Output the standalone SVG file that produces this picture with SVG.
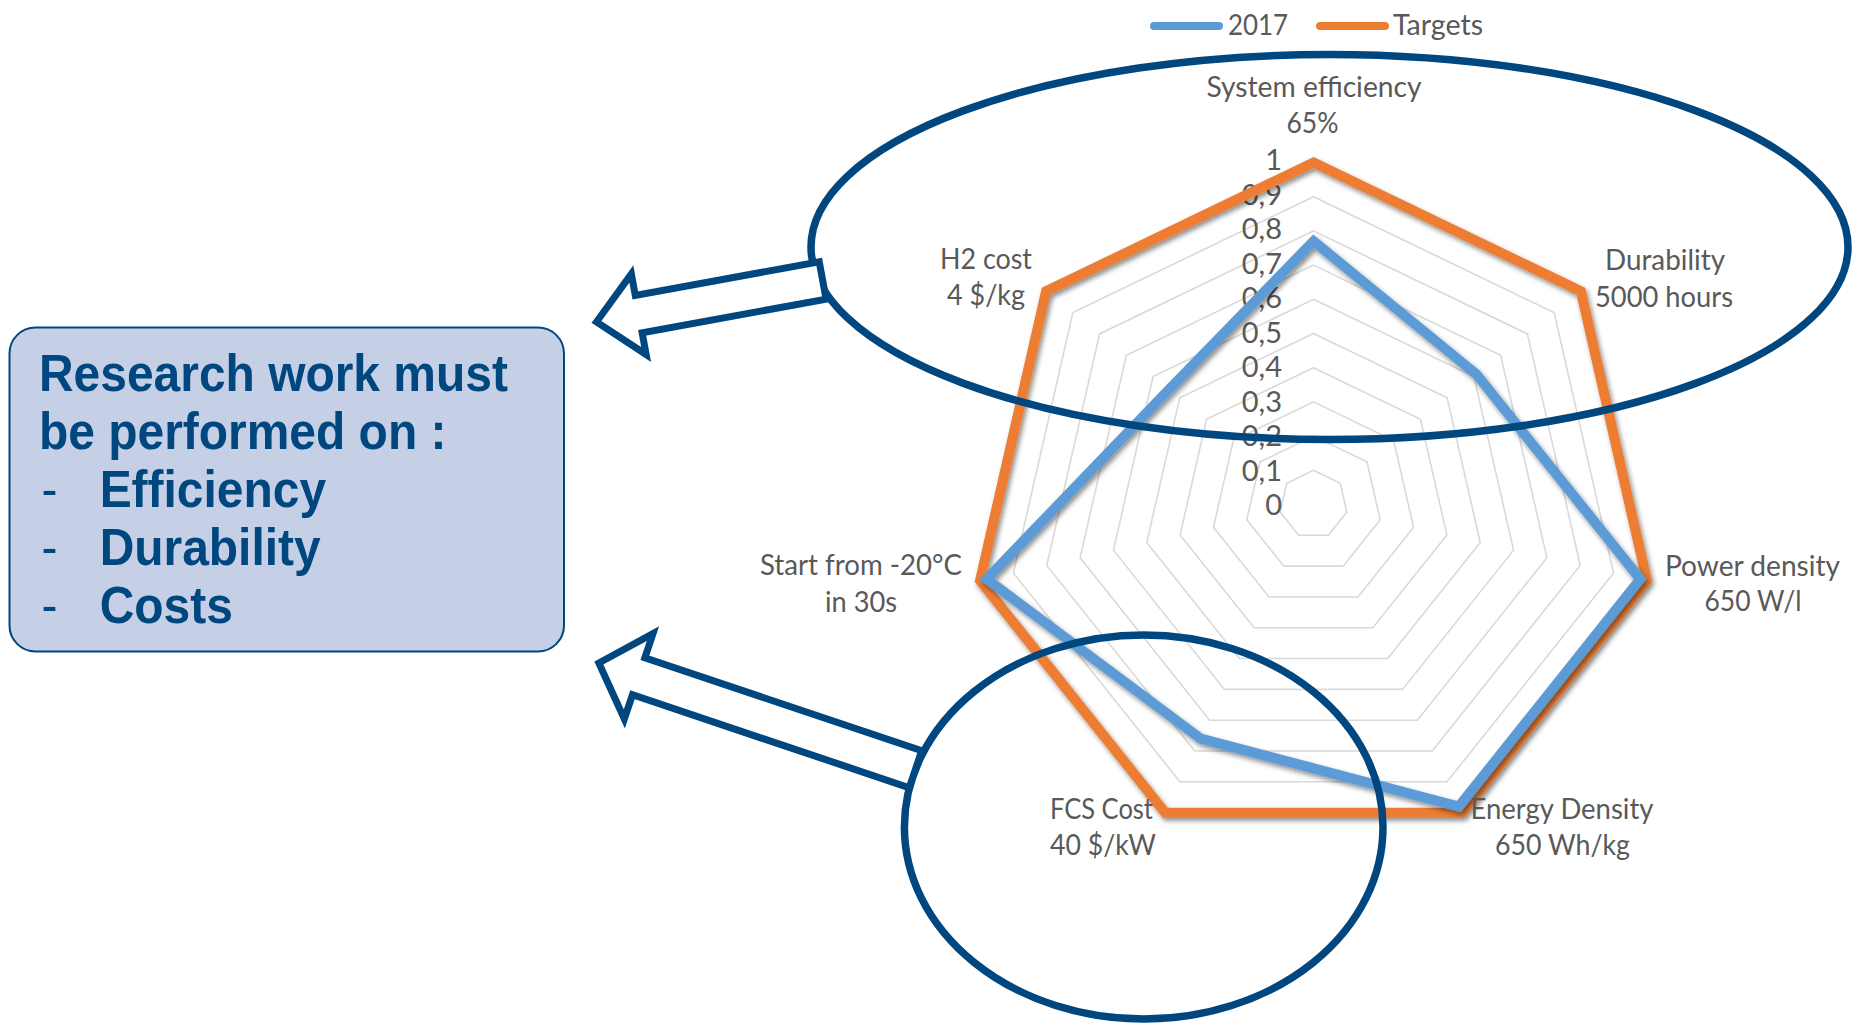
<svg xmlns="http://www.w3.org/2000/svg" width="1854" height="1025" viewBox="0 0 1854 1025">
  <style>
    .grid { fill: none; stroke: #d9d9d9; stroke-width: 1.6; }
    .lbl { font-family: Lato, "Open Sans", "Liberation Sans", sans-serif; font-size: 29px; fill: #595959; text-anchor: middle; }
    .ax { font-family: Lato, "Open Sans", "Liberation Sans", sans-serif; font-size: 29px; fill: #595959; text-anchor: end; }
    .series { fill: none; stroke-width: 10; stroke-linejoin: miter; }
    .hl { fill: none; stroke: #00467f; stroke-width: 7.5; }
    .arrow { fill: #ffffff; stroke: #00467f; stroke-width: 7; stroke-linejoin: miter; }
    .box { fill: #c5d0e7; stroke: #00467f; stroke-width: 2; }
    .bt { font-family: "Liberation Sans", Arial, sans-serif; font-weight: bold; font-size: 51px; fill: #00467f; }
  </style>
  <defs>
    <filter id="shadow" x="-10%" y="-10%" width="120%" height="120%">
      <feDropShadow dx="2" dy="3" stdDeviation="2.5" flood-color="#000000" flood-opacity="0.45"/>
    </filter>
  </defs>

  <rect x="0" y="0" width="1854" height="1025" fill="#ffffff"/>

  <!-- Radar chart -->
  <g id="chart">
    <g id="legend">
      <line x1="1154" y1="26" x2="1219" y2="26" stroke="#5b9bd5" stroke-width="8" stroke-linecap="round"/>
      <text class="lbl" x="1228" y="35" style="text-anchor:start" textLength="60" lengthAdjust="spacingAndGlyphs">2017</text>
      <line x1="1320" y1="26" x2="1385" y2="26" stroke="#ed7d31" stroke-width="8" stroke-linecap="round"/>
      <text class="lbl" x="1393" y="35" style="text-anchor:start" textLength="90" lengthAdjust="spacingAndGlyphs">Targets</text>
    </g>
    <g id="grid" transform="translate(1313.5 504.5)">
      <polygon class="grid" points="0,-34.2 26.74,-21.32 33.34,7.61 14.84,30.81 -14.84,30.81 -33.34,7.61 -26.74,-21.32"/>
      <polygon class="grid" points="0,-68.4 53.48,-42.65 66.69,15.22 29.68,61.63 -29.68,61.63 -66.69,15.22 -53.48,-42.65"/>
      <polygon class="grid" points="0,-102.6 80.22,-63.97 100.03,22.83 44.52,92.44 -44.52,92.44 -100.03,22.83 -80.22,-63.97"/>
      <polygon class="grid" points="0,-136.8 106.96,-85.29 133.37,30.44 59.36,123.25 -59.36,123.25 -133.37,30.44 -106.96,-85.29"/>
      <polygon class="grid" points="0,-171 133.7,-106.62 166.72,38.05 74.2,154.07 -74.2,154.07 -166.72,38.05 -133.7,-106.62"/>
      <polygon class="grid" points="0,-205.2 160.43,-127.94 200.06,45.66 89.03,184.88 -89.03,184.88 -200.06,45.66 -160.43,-127.94"/>
      <polygon class="grid" points="0,-239.4 187.17,-149.26 233.4,53.27 103.87,215.69 -103.87,215.69 -233.4,53.27 -187.17,-149.26"/>
      <polygon class="grid" points="0,-273.6 213.91,-170.58 266.74,60.88 118.71,246.5 -118.71,246.5 -266.74,60.88 -213.91,-170.58"/>
      <polygon class="grid" points="0,-307.8 240.65,-191.91 300.09,68.49 133.55,277.32 -133.55,277.32 -300.09,68.49 -240.65,-191.91"/>
      <polygon class="grid" points="0,-342 267.39,-213.23 333.43,76.1 148.39,308.13 -148.39,308.13 -333.43,76.1 -267.39,-213.23"/>
    </g>
    <g id="axis-values">
      <text class="ax" x="1282" y="170">1</text>
      <text class="ax" x="1282" y="204.5">0,9</text>
      <text class="ax" x="1282" y="239">0,8</text>
      <text class="ax" x="1282" y="273.5">0,7</text>
      <text class="ax" x="1282" y="308">0,6</text>
      <text class="ax" x="1282" y="342.5">0,5</text>
      <text class="ax" x="1282" y="377">0,4</text>
      <text class="ax" x="1282" y="411.5">0,3</text>
      <text class="ax" x="1282" y="446">0,2</text>
      <text class="ax" x="1282" y="480.5">0,1</text>
      <text class="ax" x="1282" y="515">0</text>
    </g>
    <g id="series-targets" filter="url(#shadow)">
      <polygon class="series" stroke="#ed7d31" points="1313.5,162.5 1580.89,291.27 1646.93,580.6 1461.89,812.63 1165.11,812.63 980.07,580.6 1046.11,291.27"/>
    </g>
    <g id="series-2017" filter="url(#shadow)">
      <polygon class="series" stroke="#5b9bd5" points="1313.5,241.16 1476.61,374.43 1640.26,579.08 1458.92,806.47 1200.72,738.68 986.74,579.08 1169.11,389.36"/>
    </g>
    <g id="category-labels">
      <text class="lbl" x="1314" y="97" textLength="215" lengthAdjust="spacingAndGlyphs">System efficiency</text>
      <text class="lbl" x="1312.5" y="133" textLength="52" lengthAdjust="spacingAndGlyphs">65%</text>
      <text class="lbl" x="1665" y="270" textLength="120" lengthAdjust="spacingAndGlyphs">Durability</text>
      <text class="lbl" x="1664" y="306.5" textLength="138" lengthAdjust="spacingAndGlyphs">5000 hours</text>
      <text class="lbl" x="1752.5" y="575.5" textLength="175" lengthAdjust="spacingAndGlyphs">Power density</text>
      <text class="lbl" x="1753" y="611" textLength="97" lengthAdjust="spacingAndGlyphs">650 W/l</text>
      <text class="lbl" x="1562" y="818.5" textLength="183" lengthAdjust="spacingAndGlyphs">Energy Density</text>
      <text class="lbl" x="1562.5" y="855" textLength="135" lengthAdjust="spacingAndGlyphs">650 Wh/kg</text>
      <text class="lbl" x="1101.5" y="818.5" textLength="103" lengthAdjust="spacingAndGlyphs">FCS Cost</text>
      <text class="lbl" x="1103" y="855" textLength="106" lengthAdjust="spacingAndGlyphs">40 $/kW</text>
      <text class="lbl" x="861" y="575" textLength="202" lengthAdjust="spacingAndGlyphs">Start from -20°C</text>
      <text class="lbl" x="861" y="611.5" textLength="72" lengthAdjust="spacingAndGlyphs">in 30s</text>
      <text class="lbl" x="986" y="268.5" textLength="92" lengthAdjust="spacingAndGlyphs">H2 cost</text>
      <text class="lbl" x="986" y="305" textLength="78" lengthAdjust="spacingAndGlyphs">4 $/kg</text>
    </g>
  </g>

  <!-- Highlight ellipses -->
  <g id="highlight-top">
    <ellipse class="hl" cx="1329.5" cy="247" rx="518.5" ry="192.5"/>
  </g>
  <g id="highlight-bottom">
    <ellipse class="hl" cx="1143.7" cy="827" rx="239.3" ry="192"/>
  </g>

  <!-- Connectors: block arrows -->
  <g id="connectors">
    <polygon class="arrow" transform="translate(593.5 322.5) rotate(-10.4)" points="3,0 46,-41 46,-19 233,-19 233,19 46,19 46,41"/>
    <polygon class="arrow" transform="translate(596 662) rotate(18.55)" points="3,0 45,-45 45,-19.5 337,-19.5 337,19.5 45,19.5 45,45"/>
  </g>

  <!-- Text box -->
  <g id="research-box">
    <rect class="box" x="9.5" y="327.5" width="554.5" height="324" rx="26" ry="26"/>
    <g transform="translate(39 0) scale(0.94 1)">
      <text class="bt" x="0" y="391.5">Research work must</text>
      <text class="bt" x="0" y="449.5">be performed on :</text>
      <text class="bt" x="2.7" y="507.5" font-weight="normal" style="font-weight:normal">-</text>
      <text class="bt" x="64.5" y="507.5">Efficiency</text>
      <text class="bt" x="2.7" y="565.5" style="font-weight:normal">-</text>
      <text class="bt" x="64.5" y="565.5">Durability</text>
      <text class="bt" x="2.7" y="623.5" style="font-weight:normal">-</text>
      <text class="bt" x="64.5" y="623.5">Costs</text>
    </g>
  </g>
</svg>
